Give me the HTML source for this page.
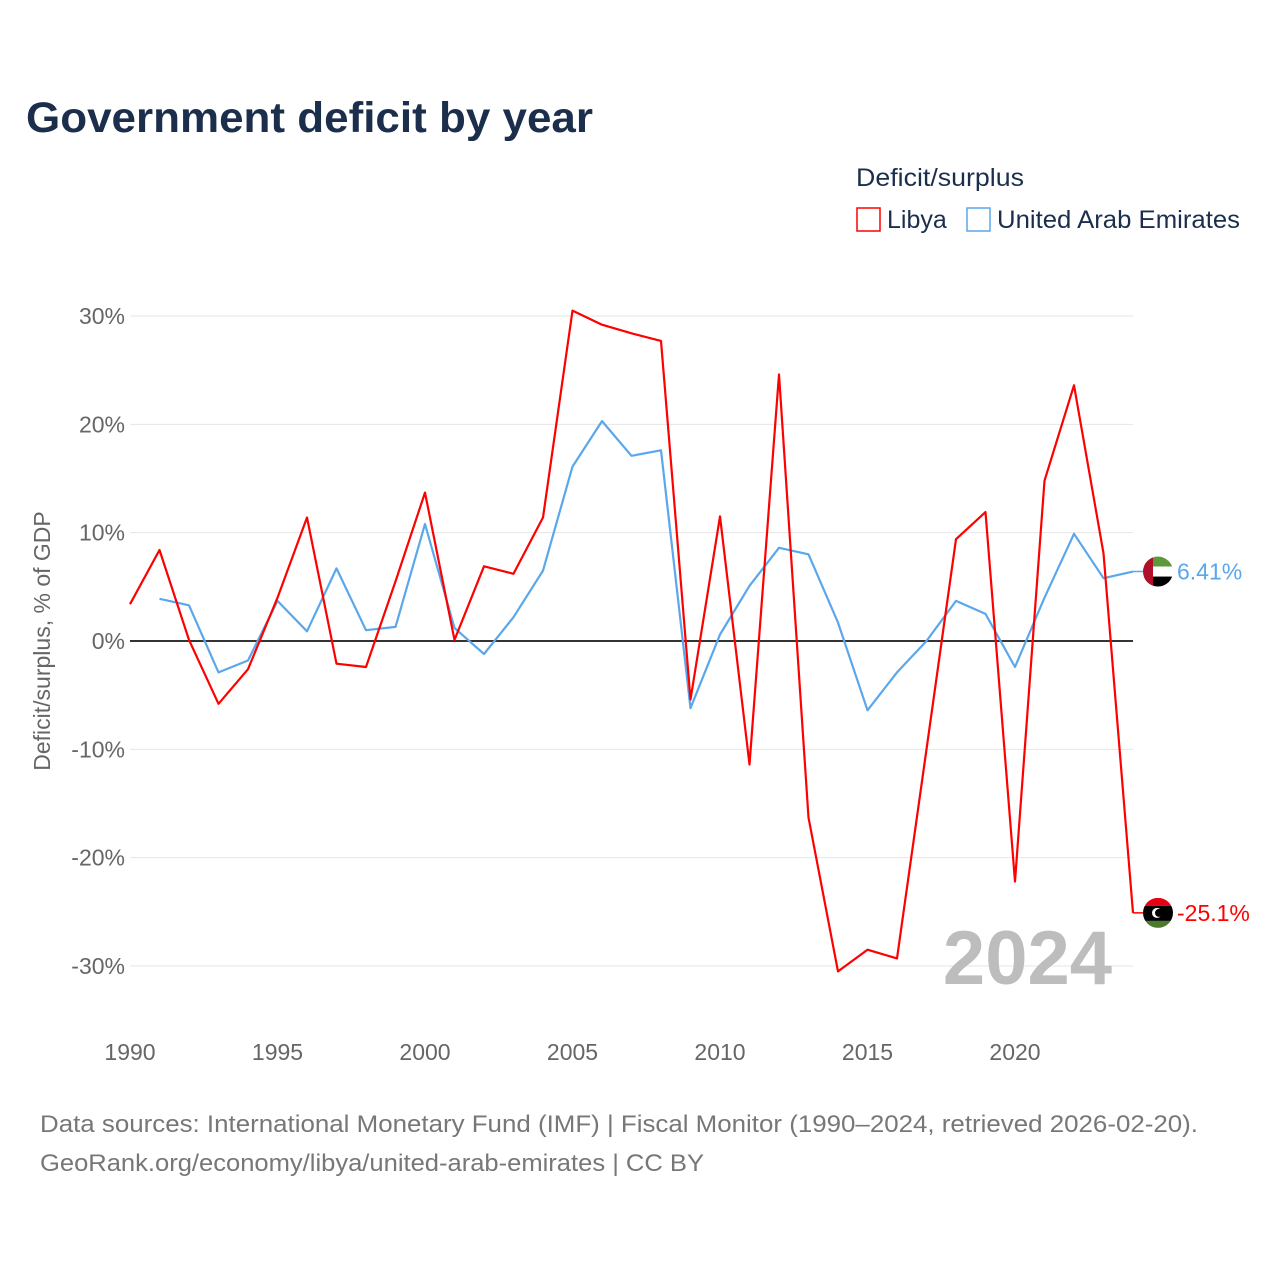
<!DOCTYPE html>
<html><head><meta charset="utf-8">
<style>
body{margin:0;background:#fff;font-family:"Liberation Sans",sans-serif;}
</style></head>
<body>
<svg width="1280" height="1280" xmlns="http://www.w3.org/2000/svg" style="font-family:'Liberation Sans',sans-serif">
<text x="26" y="132" font-size="43" font-weight="bold" fill="#1b2f4d" textLength="567" lengthAdjust="spacingAndGlyphs">Government deficit by year</text>
<text x="856" y="186" font-size="25" fill="#1b2f4d" textLength="168" lengthAdjust="spacingAndGlyphs">Deficit/surplus</text>
<g><rect x="857" y="208" width="23" height="23" fill="none" stroke="#ff0000" stroke-width="1.5"/><text x="887" y="228" font-size="25" fill="#1b2f4d">Libya</text></g>
<g><rect x="967" y="208" width="23" height="23" fill="none" stroke="#5aa7ec" stroke-width="1.5"/><text x="997" y="228" font-size="25" fill="#1b2f4d" textLength="243" lengthAdjust="spacingAndGlyphs">United Arab Emirates</text></g>
<g id="grid"></g>
<g id="yticks"></g>
<g id="xticks"></g>
<text transform="translate(50,641) rotate(-90)" text-anchor="middle" font-size="23" fill="#666">Deficit/surplus, % of GDP</text>
<text x="1112" y="984" text-anchor="end" font-size="76" font-weight="bold" fill="#bdbdbd">2024</text>
<g id="series"></g>
<text x="40" y="1132" font-size="24" fill="#777" textLength="1158" lengthAdjust="spacingAndGlyphs">Data sources: International Monetary Fund (IMF) | Fiscal Monitor (1990–2024, retrieved 2026-02-20).</text>
<text x="40" y="1171" font-size="24" fill="#777" textLength="664" lengthAdjust="spacingAndGlyphs">GeoRank.org/economy/libya/united-arab-emirates | CC BY</text>
</svg>
<script>
const years=[];for(let y=1990;y<=2024;y++)years.push(y);
const libya=[3.4,8.4,0.1,-5.8,-2.6,4,11.4,-2.1,-2.4,5.5,13.7,0.1,6.9,6.2,11.4,30.5,29.2,28.4,27.7,-5.4,11.5,-11.4,24.6,-16.3,-30.5,-28.5,-29.3,-10,9.4,11.9,-22.2,14.8,23.6,8.1,-25.1];
const uae=[null,3.9,3.3,-2.9,-1.8,3.7,0.9,6.7,1.0,1.3,10.8,1.2,-1.2,2.2,6.5,16.1,20.3,17.1,17.6,-6.2,0.6,5.1,8.6,8.0,1.7,-6.4,-2.9,0,3.7,2.5,-2.4,4,9.9,5.8,6.41];
const yTicks=[30,20,10,0,-10,-20,-30];
const xTicks=[1990,1995,2000,2005,2010,2015,2020];
const X=y=>130+(y-1990)*(1133-130)/34;
const Y=v=>641-v*10.833;
const NS="http://www.w3.org/2000/svg";
function mk(t,a,p){const e=document.createElementNS(NS,t);for(const k in a)e.setAttribute(k,a[k]);p.appendChild(e);return e;}
const grid=document.getElementById('grid'),yt=document.getElementById('yticks'),xt=document.getElementById('xticks'),ser=document.getElementById('series');
yTicks.forEach(v=>{
 const l=mk('line',{x1:130,x2:1133,y1:Y(v),y2:Y(v),stroke:v===0?'#333':'#e6e6e6','stroke-width':v===0?2:1},grid);
 
 
 const t=mk('text',{x:125,y:Y(v)+8,'text-anchor':'end','font-size':23,fill:'#666'},yt);
 t.textContent=v+'%';
 
 
});
xTicks.forEach(v=>{
 const t=mk('text',{x:X(v),y:1060,'text-anchor':'middle','font-size':23,fill:'#666'},xt);
 t.textContent=v;
 
 
});
function line(data,color,name){
 let d='';data.forEach((v,i)=>{if(v===null)return;d+=(d?'L':'M')+X(years[i]).toFixed(1)+','+Y(v).toFixed(1);});
 const p=mk('path',{d:d,fill:'none',stroke:color,'stroke-width':2.2,'stroke-linejoin':'round'},ser);
 
 
}
line(uae,'#5aa7ec','uae-line');
line(libya,'#ff0000','libya-line');
function endLabel(v,color,name,flag){
 const cy=Y(v),cx=1158;
 const g=mk('g',{},ser);
 
 
 mk('line',{x1:1133,x2:cx,y1:cy,y2:cy,stroke:color,'stroke-width':1.5},g);
 const cp=mk('clipPath',{id:'c'+name},g);mk('circle',{cx:cx,cy:cy,r:15},cp);
 const fg=mk('g',{'clip-path':'url(#c'+name+')'},g);
 if(flag==='uae'){
  mk('rect',{x:cx-15,y:cy-15,width:30,height:10,fill:'#5a9a3c'},fg);
  mk('rect',{x:cx-15,y:cy-5,width:30,height:10,fill:'#fff'},fg);
  mk('rect',{x:cx-15,y:cy+5,width:30,height:10,fill:'#000'},fg);
  mk('rect',{x:cx-15,y:cy-15,width:10,height:30,fill:'#b0102a'},fg);
 }else{
  mk('rect',{x:cx-15,y:cy-15,width:30,height:8,fill:'#e70013'},fg);
  mk('rect',{x:cx-15,y:cy-7,width:30,height:15,fill:'#000'},fg);
  mk('rect',{x:cx-15,y:cy+8,width:30,height:7,fill:'#4a7a2a'},fg);
  mk('circle',{cx:cx-1,cy:cy,r:5,fill:'#fff'},fg);
  mk('circle',{cx:cx+1,cy:cy,r:4,fill:'#000'},fg);
 }
 const t=mk('text',{x:1177,y:cy+8,'font-size':23,fill:color},g);
 t.textContent=(Math.abs(v)>=10?v.toFixed(1):v.toFixed(2))+'%';
}
endLabel(uae[uae.length-1],'#5aa7ec','uae-end-label','uae');
endLabel(libya[libya.length-1],'#ff0000','libya-end-label','ly');
</script>
</body></html>
